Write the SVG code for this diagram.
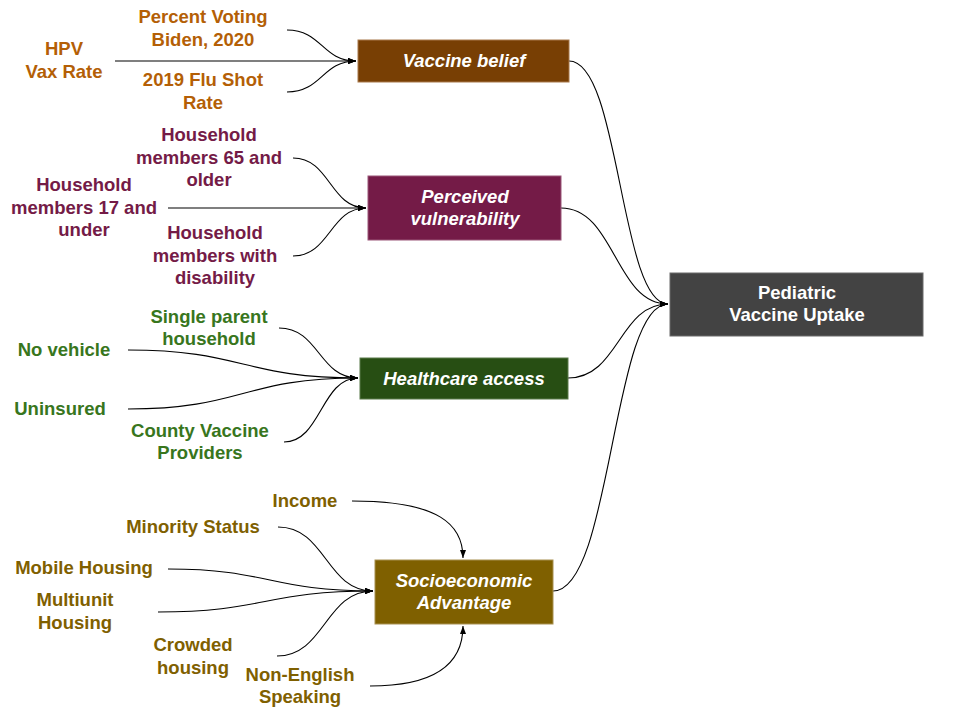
<svg xmlns="http://www.w3.org/2000/svg" width="960" height="720" viewBox="0 0 960 720">
<style>
text{font-family:"Liberation Sans",Arial,sans-serif;font-weight:bold;font-size:18.5px;text-anchor:middle}
.bt{fill:#ffffff;font-style:italic}
.ot{fill:#ffffff}
.c1{fill:#b45f06}.c2{fill:#741b47}.c3{fill:#38761d}.c4{fill:#7f6000}
.e{fill:none;stroke:#000000;stroke-width:1.1}
</style>
<defs>
<marker id="ah" markerUnits="userSpaceOnUse" markerWidth="8" markerHeight="8" viewBox="0 0 8 8" refX="8" refY="4" orient="auto">
<path d="M0,1 L8,4 L0,7 Z" fill="#000000"/>
</marker>
</defs>
<g id="connectors">
<path class="e" d="M287,30 C322,30 322,61 356,61" marker-end="url(#ah)"/>
<path class="e" d="M115,61 L356,61" marker-end="url(#ah)"/>
<path class="e" d="M287,92 C322,92 322,61 356,61" marker-end="url(#ah)"/>
<path class="e" d="M293,158 C330,158 330,208 366,208" marker-end="url(#ah)"/>
<path class="e" d="M168,208 L366,208" marker-end="url(#ah)"/>
<path class="e" d="M293,256 C330,256 330,208 366,208" marker-end="url(#ah)"/>
<path class="e" d="M279,328 C319,328 319,378 358,378" marker-end="url(#ah)"/>
<path class="e" d="M128,350 C243,350 243,378 358,378" marker-end="url(#ah)"/>
<path class="e" d="M128,409 C243,409 243,378 358,378" marker-end="url(#ah)"/>
<path class="e" d="M284,442 C321,442 321,378 358,378" marker-end="url(#ah)"/>
<path class="e" d="M352,501 C440,501 463,525 463,558" marker-end="url(#ah)"/>
<path class="e" d="M278,527 C326,527 326,591 373,591" marker-end="url(#ah)"/>
<path class="e" d="M168,569 C270,569 270,591 373,591" marker-end="url(#ah)"/>
<path class="e" d="M158,612 C265,612 265,591 373,591" marker-end="url(#ah)"/>
<path class="e" d="M277,656 C325,656 325,591 373,591" marker-end="url(#ah)"/>
<path class="e" d="M370,686 C440,686 463,660 463,626" marker-end="url(#ah)"/>
<path class="e" d="M569,61 C620,61 620,304 668,304" marker-end="url(#ah)"/>
<path class="e" d="M561,208 C615,208 615,304 668,304" marker-end="url(#ah)"/>
<path class="e" d="M568,378 C619,378 619,304 668,304" marker-end="url(#ah)"/>
<path class="e" d="M553,591 C612,591 612,304 668,304" marker-end="url(#ah)"/>
</g>
<g id="vaccine-belief">
<rect x="358" y="40" width="211" height="42" fill="#783f04" stroke="#a8784a" stroke-width="1"/>
<text class="bt" x="464" y="67">Vaccine belief</text>
</g>
<g id="perceived-vulnerability">
<rect x="368" y="176" width="193" height="64" fill="#741b47" stroke="#9a5678" stroke-width="1"/>
<text class="bt" x="465" y="203">Perceived</text>
<text class="bt" x="465" y="225">vulnerability</text>
</g>
<g id="healthcare-access">
<rect x="360" y="358" width="208" height="41" fill="#274e13" stroke="#5a7a4a" stroke-width="1"/>
<text class="bt" x="464" y="385">Healthcare access</text>
</g>
<g id="socioeconomic-advantage">
<rect x="375" y="560" width="178" height="64" fill="#7f6000" stroke="#a89050" stroke-width="1"/>
<text class="bt" x="464" y="587">Socioeconomic</text>
<text class="bt" x="464" y="609">Advantage</text>
</g>
<g id="pediatric-vaccine-uptake">
<rect x="670" y="273" width="253" height="63" fill="#434343" stroke="#6a6a6a" stroke-width="1"/>
<text class="ot" x="797" y="299">Pediatric</text>
<text class="ot" x="797" y="321">Vaccine Uptake</text>
</g>
<g id="percent-voting-biden">
<text class="c1" x="203" y="23">Percent Voting</text>
<text class="c1" x="203" y="46">Biden, 2020</text>
</g>
<g id="hpv-vax-rate">
<text class="c1" x="64" y="55">HPV</text>
<text class="c1" x="64" y="78">Vax Rate</text>
</g>
<g id="flu-shot-rate">
<text class="c1" x="203" y="86">2019 Flu Shot</text>
<text class="c1" x="203" y="109">Rate</text>
</g>
<g id="hh-65-older">
<text class="c2" x="209" y="141">Household</text>
<text class="c2" x="209" y="164">members 65 and</text>
<text class="c2" x="209" y="186">older</text>
</g>
<g id="hh-17-under">
<text class="c2" x="84" y="191">Household</text>
<text class="c2" x="84" y="214">members 17 and</text>
<text class="c2" x="84" y="236">under</text>
</g>
<g id="hh-disability">
<text class="c2" x="215" y="239">Household</text>
<text class="c2" x="215" y="262">members with</text>
<text class="c2" x="215" y="284">disability</text>
</g>
<g id="single-parent">
<text class="c3" x="209" y="323">Single parent</text>
<text class="c3" x="209" y="345">household</text>
</g>
<g id="no-vehicle">
<text class="c3" x="64" y="356">No vehicle</text>
</g>
<g id="uninsured">
<text class="c3" x="60" y="415">Uninsured</text>
</g>
<g id="county-vaccine-providers">
<text class="c3" x="200" y="437">County Vaccine</text>
<text class="c3" x="200" y="459">Providers</text>
</g>
<g id="income">
<text class="c4" x="305" y="507">Income</text>
</g>
<g id="minority-status">
<text class="c4" x="193" y="533">Minority Status</text>
</g>
<g id="mobile-housing">
<text class="c4" x="84" y="574">Mobile Housing</text>
</g>
<g id="multiunit-housing">
<text class="c4" x="75" y="606">Multiunit</text>
<text class="c4" x="75" y="629">Housing</text>
</g>
<g id="crowded-housing">
<text class="c4" x="193" y="651">Crowded</text>
<text class="c4" x="193" y="674">housing</text>
</g>
<g id="non-english-speaking">
<text class="c4" x="300" y="681">Non-English</text>
<text class="c4" x="300" y="703">Speaking</text>
</g>
</svg>
